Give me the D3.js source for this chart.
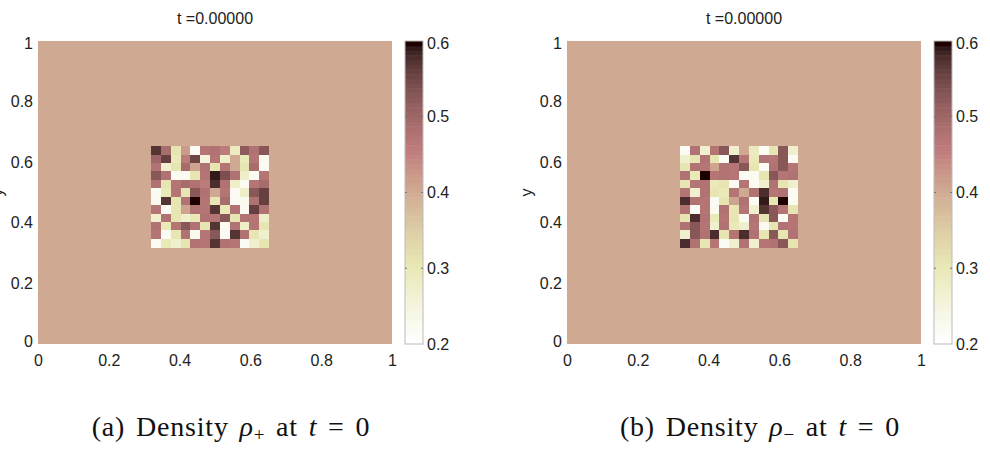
<!DOCTYPE html>
<html>
<head>
<meta charset="utf-8">
<script src="https://cdn.jsdelivr.net/npm/d3@7"></script>
<style>
  body { margin: 0; background: #fff; }
  text { font-family: "Liberation Sans", Arial, sans-serif; fill: #222; }
  .cap { font-family: "Liberation Serif", "DejaVu Serif", serif; fill: #111; }
</style>
</head>
<body>
<svg width="990" height="449"></svg>
<script>
// tick values
var xTicks = [0, 0.2, 0.4, 0.6, 0.8, 1];
var yTicks = [0, 0.2, 0.4, 0.6, 0.8, 1];
var cbTicks = [0.2, 0.3, 0.4, 0.5, 0.6];
var titles = ["t =0.00000", "t =0.00000"];
var background = 0.4;   // uniform density outside the square
var nGrid = 36;          // cells per unit
var blockStart = 12;     // first node index of random block

// random block, rows top (high y) to bottom
var densPlus = [
  [0.57,0.49,0.31,0.42,0.22,0.47,0.48,0.46,0.29,0.52,0.48,0.53],
  [0.50,0.56,0.30,0.46,0.55,0.25,0.47,0.28,0.40,0.30,0.47,0.23],
  [0.48,0.27,0.31,0.49,0.41,0.48,0.31,0.47,0.40,0.31,0.49,0.22],
  [0.53,0.48,0.22,0.23,0.31,0.47,0.59,0.54,0.48,0.28,0.22,0.47],
  [0.48,0.31,0.47,0.49,0.48,0.46,0.58,0.48,0.28,0.22,0.47,0.49],
  [0.22,0.30,0.47,0.31,0.53,0.48,0.40,0.47,0.22,0.28,0.53,0.56],
  [0.23,0.57,0.31,0.48,0.60,0.47,0.31,0.49,0.22,0.23,0.48,0.56],
  [0.47,0.22,0.31,0.41,0.48,0.47,0.57,0.30,0.48,0.22,0.56,0.48],
  [0.27,0.48,0.31,0.27,0.30,0.48,0.47,0.53,0.31,0.48,0.47,0.28],
  [0.48,0.30,0.47,0.53,0.48,0.31,0.57,0.22,0.48,0.28,0.47,0.31],
  [0.47,0.22,0.31,0.48,0.23,0.47,0.53,0.22,0.57,0.48,0.31,0.27],
  [0.22,0.30,0.27,0.31,0.48,0.47,0.57,0.48,0.47,0.22,0.27,0.31]
];
var densMinus = [
  [0.22,0.48,0.27,0.47,0.53,0.27,0.40,0.29,0.22,0.31,0.53,0.27],
  [0.27,0.31,0.48,0.31,0.22,0.57,0.47,0.30,0.48,0.47,0.53,0.22],
  [0.31,0.48,0.47,0.41,0.48,0.47,0.53,0.31,0.22,0.48,0.53,0.47],
  [0.48,0.30,0.60,0.47,0.48,0.47,0.22,0.23,0.31,0.53,0.47,0.48],
  [0.31,0.47,0.48,0.30,0.31,0.22,0.47,0.22,0.27,0.48,0.31,0.27],
  [0.47,0.27,0.48,0.31,0.30,0.47,0.40,0.48,0.58,0.47,0.48,0.22],
  [0.58,0.48,0.47,0.22,0.31,0.41,0.48,0.22,0.59,0.31,0.60,0.22],
  [0.48,0.22,0.47,0.23,0.48,0.31,0.47,0.27,0.57,0.53,0.47,0.31],
  [0.31,0.58,0.48,0.30,0.47,0.31,0.22,0.48,0.31,0.53,0.22,0.47],
  [0.48,0.53,0.47,0.27,0.48,0.30,0.27,0.47,0.22,0.31,0.48,0.47],
  [0.27,0.53,0.48,0.58,0.31,0.47,0.58,0.48,0.31,0.53,0.31,0.48],
  [0.58,0.48,0.31,0.47,0.22,0.27,0.48,0.27,0.47,0.48,0.53,0.31]
];
var panels = [
  {data: densPlus, cap: "(a)", sub: "+", dx: 0},
  {data: densMinus, cap: "(b)", sub: "\u2212", dx: 529}
];

// flipud(pink(64)) like matlab
var m = 64, n = Math.floor(3 / 8 * m);
var cmap = [];
for (var i = 0; i < m; i++) {
  var g = i / (m - 1);
  var r = i < n ? (i + 1) / n : 1;
  var gg = i < n ? 0 : (i < 2 * n ? (i - n + 1) / n : 1);
  var b = i < 2 * n ? 0 : (i - 2 * n + 1) / (m - 2 * n);
  cmap.push(d3.rgb(255 * Math.sqrt((2 * g + r) / 3), 255 * Math.sqrt((2 * g + gg) / 3), 255 * Math.sqrt((2 * g + b) / 3)).toString());
}
cmap.reverse();
var cScale = d3.scaleQuantize().domain([0.2, 0.6]).range(cmap);

var svg = d3.select("svg");
var plotW = 354, plotH = 303, plotTop = 41, plotLeft = 38;
var fs = 16;

panels.forEach(function(p, k) {
  var gp = svg.append("g").attr("transform", "translate(" + p.dx + ",0)");
  var x = d3.scaleLinear().domain([0, 1]).range([plotLeft, plotLeft + plotW]);
  var y = d3.scaleLinear().domain([0, 1]).range([plotTop + plotH, plotTop]);

  gp.append("rect").attr("x", x(0)).attr("y", y(1))
    .attr("width", x(1) - x(0)).attr("height", y(0) - y(1))
    .attr("fill", cScale(background));

  var cells = [];
  p.data.forEach(function(row, ri) {
    row.forEach(function(v, ci) {
      cells.push({i: blockStart + ci, j: blockStart + (row.length - 1 - ri), v: v});
    });
  });
  gp.selectAll("rect.cell").data(cells).enter().append("rect")
    .attr("class", "cell")
    .attr("shape-rendering", "crispEdges")
    .attr("x", function(d) { return x((d.i - 0.5) / nGrid); })
    .attr("y", function(d) { return y((d.j + 0.5) / nGrid); })
    .attr("width", x(1 / nGrid) - x(0) + 0.3)
    .attr("height", y(0) - y(1 / nGrid) + 0.3)
    .attr("fill", function(d) { return cScale(d.v); });

  // axes
  var xa = gp.append("g").attr("transform", "translate(0," + (plotTop + plotH) + ")")
    .call(d3.axisBottom(x).tickValues(xTicks).tickSize(0).tickPadding(11).tickFormat(d3.format("")));
  xa.select(".domain").remove();
  xa.selectAll("text").attr("font-size", fs).attr("fill", "#222");

  var ya = gp.append("g").attr("transform", "translate(" + plotLeft + ",0)")
    .call(d3.axisLeft(y).tickValues(yTicks).tickSize(0).tickPadding(5).tickFormat(d3.format("")));
  ya.select(".domain").remove();
  ya.selectAll("text").attr("font-size", fs).attr("fill", "#222")
    .attr("dy", function(d) { return d === 0 ? "0.15em" : (d === 1 ? "0.45em" : "0.32em"); });

  gp.append("text").attr("transform", "translate(" + (plotLeft - 35) + "," + (plotTop + plotH / 2) + ") rotate(-90)")
    .attr("text-anchor", "middle").attr("font-size", fs).text("y");

  gp.append("text").attr("x", x(0.5)).attr("y", 24)
    .attr("text-anchor", "middle").attr("font-size", fs).text(titles[k]);

  // colorbar
  var cbx = 405, cbw = 18;
  var cy = d3.scaleLinear().domain([0.2, 0.6]).range([plotTop + plotH, plotTop]);
  var steps = cmap.map(function(c, i) { return {c: c, v0: 0.2 + i * 0.4 / m, v1: 0.2 + (i + 1) * 0.4 / m}; });
  gp.selectAll("rect.cb").data(steps).enter().append("rect")
    .attr("class", "cb")
    .attr("x", cbx).attr("width", cbw)
    .attr("y", function(d) { return cy(d.v1); })
    .attr("height", function(d) { return cy(d.v0) - cy(d.v1) + 0.5; })
    .attr("fill", function(d) { return d.c; });
  gp.append("rect").attr("x", cbx).attr("y", plotTop).attr("width", cbw).attr("height", plotH)
    .attr("fill", "none").attr("stroke", "#bbb").attr("stroke-width", 1);
  var cba = gp.append("g").attr("transform", "translate(" + (cbx + cbw) + ",0)")
    .call(d3.axisRight(cy).tickValues(cbTicks).tickSize(0).tickPadding(4).tickFormat(d3.format(".1f")));
  cba.select(".domain").remove();
  cba.selectAll("text").attr("font-size", fs).attr("fill", "#222")
    .attr("dy", function(d) { return d === 0.6 ? "0.45em" : "0.32em"; });
  gp.selectAll("line.cbt").data(cbTicks.slice(1, -1)).enter().append("line")
    .attr("class", "cbt")
    .attr("x1", cbx).attr("x2", cbx + 2).attr("y1", function(d) { return cy(d); }).attr("y2", function(d) { return cy(d); })
    .attr("stroke", "#777");
  gp.selectAll("line.cbt2").data(cbTicks.slice(1, -1)).enter().append("line")
    .attr("class", "cbt2")
    .attr("x1", cbx + cbw - 2).attr("x2", cbx + cbw).attr("y1", function(d) { return cy(d); }).attr("y2", function(d) { return cy(d); })
    .attr("stroke", "#777");

  // caption
  var cap = gp.append("text").attr("class", "cap").attr("x", x(0.5) + 16).attr("y", 436)
    .attr("text-anchor", "middle").attr("font-size", 28)
    .attr("letter-spacing", 0.8).attr("word-spacing", 3);
  cap.append("tspan").text(p.cap + " Density ");
  cap.append("tspan").attr("font-style", "italic").text("\u03C1");
  cap.append("tspan").attr("font-size", 19).attr("dy", 5).text(p.sub);
  cap.append("tspan").attr("dy", -5).text(" at ");
  cap.append("tspan").attr("font-style", "italic").text("t");
  cap.append("tspan").text(" = 0");
});
</script>
</body>
</html>
